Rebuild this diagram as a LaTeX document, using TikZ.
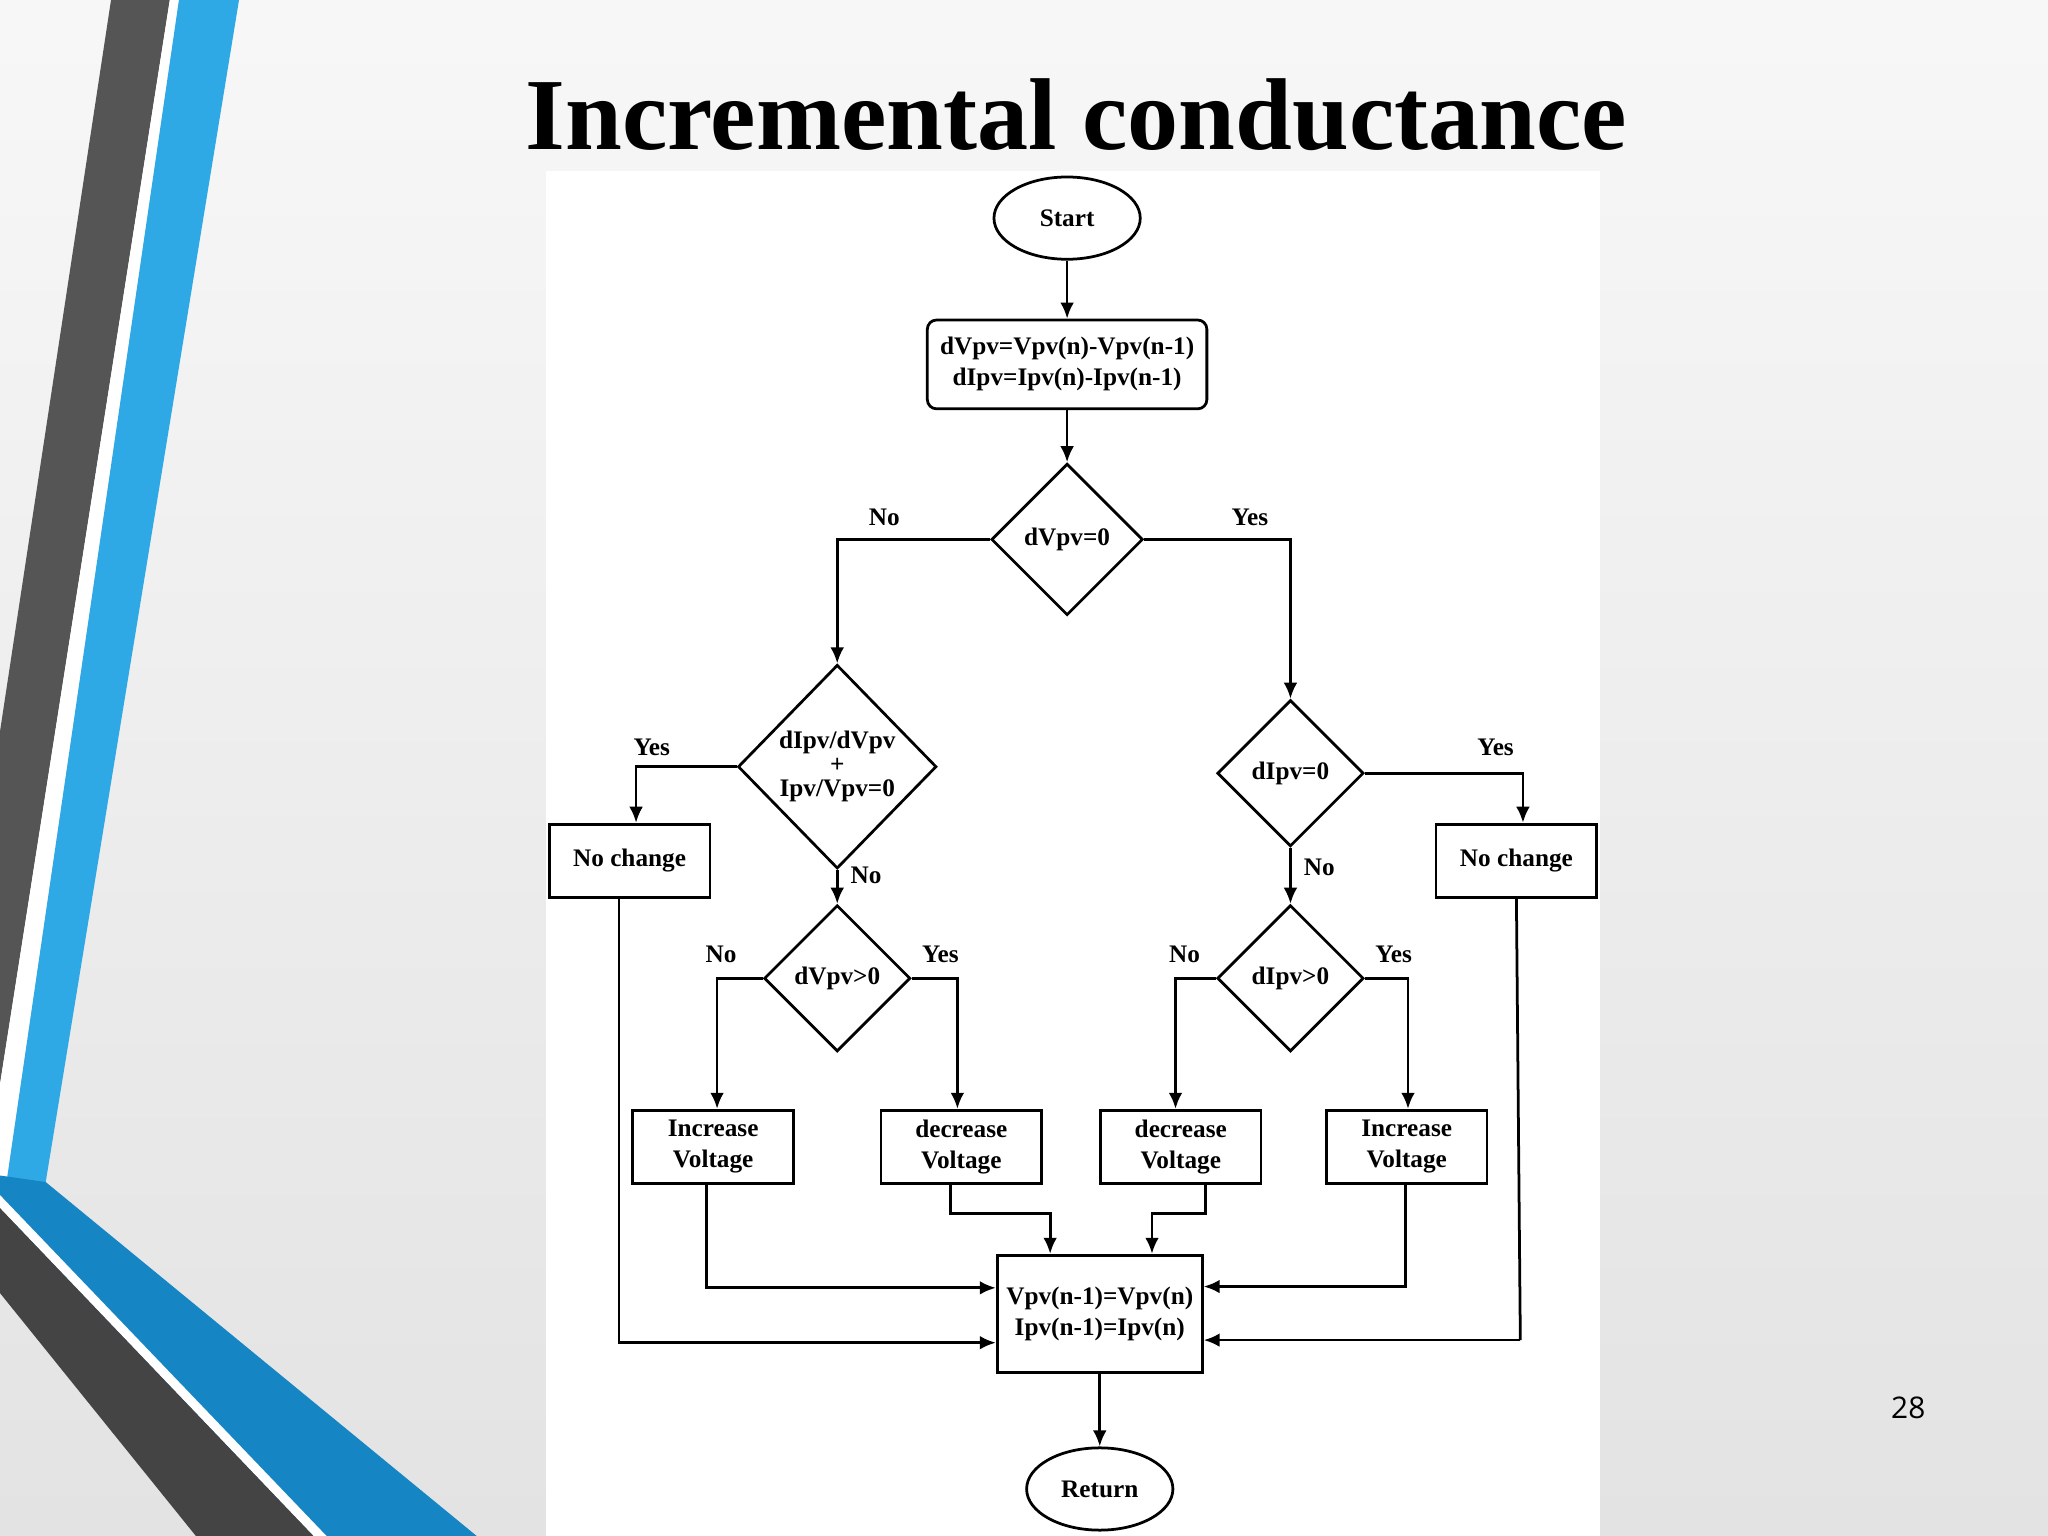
\documentclass[tikz,border=0pt]{standalone}
\usepackage{fontspec}
\setmainfont{Liberation Serif}
\newfontfamily\pgnum{Open Sans}
\usetikzlibrary{shapes.geometric,arrows.meta}
\definecolor{sblue}{HTML}{2EA9E6}
\definecolor{dblue}{HTML}{1585C4}
\definecolor{sgray}{HTML}{555555}
\begin{document}
\begin{tikzpicture}[x=0.02cm,y=-0.02cm,
  every node/.style={font=\fontsize{11}{13.5}\selectfont\bfseries, align=center, line width=1.2pt},
  box/.style={draw, rectangle, inner sep=0pt},
  dia/.style={draw, diamond, inner sep=0pt, minimum width=#1*0.02cm, minimum height=#1*0.02cm},
  ell/.style={draw, ellipse, inner sep=0pt, minimum width=112*0.02cm, minimum height=63*0.02cm},
  lbl/.style={draw=none, font=\fontsize{11}{13.5}\selectfont\bfseries},
  arr/.style={line width=1.2pt, -{Latex[length=7pt,width=6pt]}},
  ln/.style={line width=1.2pt}]
\useasboundingbox (0,0) rectangle (1568,1176);
\shade[top color=gray!6, bottom color=gray!22] (0,0) rectangle (1568,1176);
% stripes
\fill[sgray] (85,0) -- (130,0) -- (0,830) -- (0,560) -- cycle;
\fill[white] (130,0) -- (137,0) -- (5,905) -- (0,905) -- (0,830) -- cycle;
\fill[sblue] (137,0) -- (183,0) -- (35,905) -- (0,905) -- (5,905) -- cycle;
\fill[dblue] (0,900) -- (35,905) -- (365,1176) -- (230,1176) -- (0,985) -- cycle;
\fill[white] (0,915) -- (250,1176) -- (240,1176) -- (0,925) -- cycle;
\fill[sgray!80!black] (0,925) -- (240,1176) -- (150,1176) -- (0,990) -- cycle;
% panel
\fill[white] (418,131) rectangle (1225,1176);
\node[lbl, font=\fontsize{44.5}{48}\selectfont\bfseries] (title) at (824,88) {Incremental conductance};
\node[lbl, font=\pgnum\fontsize{13}{15}\selectfont] (pg) at (1461,1078) {28};
% nodes
\node[ell] (start) at (817,167) {Start};
\node[box, rounded corners=4pt, minimum width=214*0.02cm, minimum height=68*0.02cm] (b1) at (817,279) {dVpv=Vpv(n)-Vpv(n-1)\\dIpv=Ipv(n)-Ipv(n-1)};
\node[dia=116] (d1) at (817,413) {dVpv=0};
\node[dia=152, minimum height=156*0.02cm] (d2) at (641,587) {};
\node[lbl] (d2t) at (641,587) {dIpv/dVpv\\[-3pt]+\\[-3pt]Ipv/Vpv=0};
\node[dia=112] (d3) at (988,592) {dIpv=0};
\node[box, minimum width=123*0.02cm, minimum height=56*0.02cm] (nc1) at (482,659) {No change};
\node[box, minimum width=123*0.02cm, minimum height=56*0.02cm] (nc2) at (1161,659) {No change};
\node[dia=112] (d4) at (641,749) {dVpv>0};
\node[dia=112] (d5) at (988,749) {dIpv>0};
\node[box, minimum width=123*0.02cm, minimum height=56*0.02cm] (iv1) at (546,878) {Increase\\Voltage};
\node[box, minimum width=123*0.02cm, minimum height=56*0.02cm] (dv1) at (736,878) {decrease\\Voltage};
\node[box, minimum width=123*0.02cm, minimum height=56*0.02cm] (dv2) at (904,878) {decrease\\Voltage};
\node[box, minimum width=123*0.02cm, minimum height=56*0.02cm] (iv2) at (1077,878) {Increase\\Voltage};
\node[box, minimum width=157*0.02cm, minimum height=90*0.02cm] (fin) at (842,1006) {Vpv(n-1)=Vpv(n)\\Ipv(n-1)=Ipv(n)};
\node[ell] (ret) at (842,1140) {Return};
% labels
\node[lbl] at (677,396) {No};
\node[lbl] at (957,396) {Yes};
\node[lbl] at (499,572) {Yes};
\node[lbl] at (663,670) {No};
\node[lbl] at (1145,572) {Yes};
\node[lbl] at (1010,664) {No};
\node[lbl] at (552,731) {No};
\node[lbl] at (720,731) {Yes};
\node[lbl] at (907,731) {No};
\node[lbl] at (1067,731) {Yes};
% connectors
\draw[arr] (start) -- (b1);
\draw[arr] (b1) -- (d1);
\draw[arr] (d1.west) -| (d2.north);
\draw[arr] (d1.east) -| (d3.north);
\draw[arr] (d2.west) -| ([xshift=5*0.02cm]nc1.north);
\draw[arr] (d2.south) -- (d4.north);
\draw[arr] (d3.east) -| ([xshift=5*0.02cm]nc2.north);
\draw[arr] (d3.south) -- (d5.north);
\draw[arr] (d4.west) -| ([xshift=3*0.02cm]iv1.north);
\draw[arr] (d4.east) -| ([xshift=-3*0.02cm]dv1.north);
\draw[arr] (d5.west) -| ([xshift=-4*0.02cm]dv2.north);
\draw[arr] (d5.east) -| ([xshift=1*0.02cm]iv2.north);
\draw[arr] ([xshift=-5*0.02cm]iv1.south) |- ([yshift=20*0.02cm]fin.west);
\draw[arr] ([xshift=-8*0.02cm]nc1.south) |- ([yshift=-22*0.02cm]fin.west);
\draw[arr] ([xshift=-8*0.02cm]dv1.south) -- ++(0,22) -| ([xshift=-38*0.02cm]fin.north);
\draw[arr] ([xshift=19*0.02cm]dv2.south) -- ++(0,22) -| ([xshift=40*0.02cm]fin.north);
\draw[arr] ([xshift=-1*0.02cm]iv2.south) |- ([yshift=21*0.02cm]fin.east);
\coordinate (nc2b) at (1164,1026);
\draw[ln] (nc2.south) -- (nc2b);
\draw[arr] (nc2b) -- ([yshift=-20*0.02cm]fin.east);
\draw[arr] (fin) -- (ret);
\end{tikzpicture}
\end{document}
